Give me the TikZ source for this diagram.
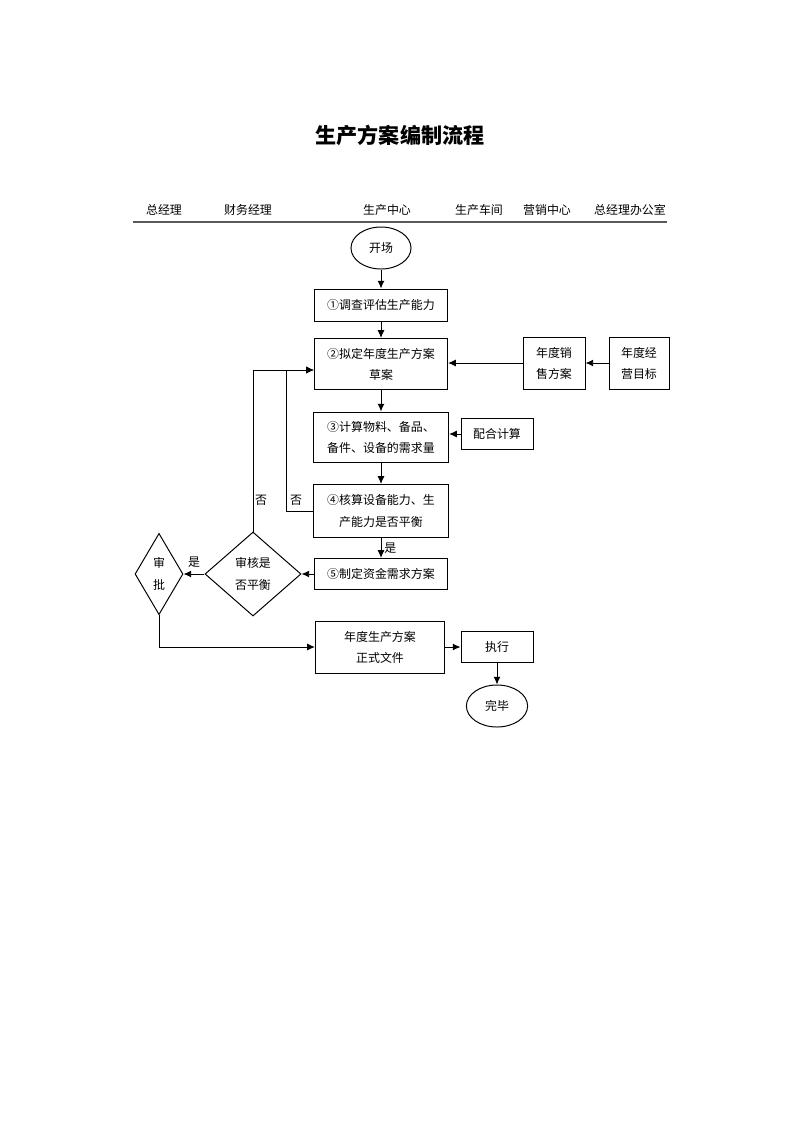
\documentclass[tikz,border=0pt]{standalone}
\usepackage{fontspec}
\usetikzlibrary{positioning,shapes.geometric,arrows.meta}
\newfontfamily\cjk{Noto Sans CJK SC}

\begin{document}
\begin{tikzpicture}[x=0.025cm,y=-0.025cm,line width=0.7pt,
  >={Latex[length=5.5pt,width=5pt]},
  every node/.style={font=\cjk\fontsize{8.5}{15}\selectfont},
  box/.style={draw,rectangle,inner sep=2pt,align=center},
  oval/.style={draw,ellipse,minimum width=1.5cm,minimum height=1.05cm},
  diam/.style={draw,diamond,inner sep=0pt,align=center,
    font=\cjk\fontsize{8.5}{16}\selectfont},
  hdr/.style={font=\cjk\fontsize{8.5}{10}\selectfont}]

  \useasboundingbox (0,0) rectangle (800,1132);

  \node[font=\cjk\bfseries\fontsize{15}{18}\selectfont] (title) at (400,135) {生产方案编制流程};

  % column heads
  \node[hdr] (h1) at (164,210) {总经理};
  \node[hdr] (h2) at (248,210) {财务经理};
  \node[hdr] (h3) at (387,210) {生产中心};
  \node[hdr] (h4) at (479,210) {生产车间};
  \node[hdr] (h5) at (547,210) {营销中心};
  \node[hdr] (h6) at (630,210) {总经理办公室};
  \draw[line width=1.2pt,black!65] (133,222) -- (667,222);

  % main column
  \node[oval] (start) at (381,248) {开场};
  \node[box,minimum width=3.3cm,minimum height=0.8cm] (s1) at (381,305) {①调查评估生产能力};
  \node[box,minimum width=3.33cm,minimum height=1.28cm] (s2) at (381,364) {②拟定年度生产方案\\草案};
  \node[box,minimum width=3.38cm,minimum height=1.25cm] (s3) at (381,437) {③计算物料、备品、\\备件、设备的需求量};
  \node[box,minimum width=3.35cm,minimum height=1.33cm] (s4) at (381,511) {④核算设备能力、生\\产能力是否平衡};
  \node[box,minimum width=3.33cm,minimum height=0.78cm] (s5) at (381,574) {⑤制定资金需求方案};
  \node[diam,minimum width=2.4cm,minimum height=2.1cm] (shen) at (253,574) {审核是\\否平衡};
  \node[diam,minimum width=1.2cm,minimum height=2.03cm] (pizhun) at (159,574) {审\\批};
  \node[box,minimum width=3.23cm,minimum height=1.3cm] (wenjian) at (380,647) {年度生产方案\\正式文件};
  \node[box,minimum width=1.8cm,minimum height=0.78cm] (zhixing) at (497,647) {执行};
  \node[oval,minimum width=1.53cm] (wanbi) at (497,706) {完毕};

  % side inputs
  \node[box,minimum width=1.55cm,minimum height=1.3cm] (xiaoshou) at (554,363) {年度销\\售方案};
  \node[box,minimum width=1.5cm,minimum height=1.3cm] (mubiao) at (639,363) {年度经\\营目标};
  \node[box,minimum width=1.8cm,minimum height=0.78cm] (peihe) at (497,434) {配合计算};

  \draw[->] (start) -- (s1);
  \draw[->] (s1) -- (s2);
  \draw[->] (s2) -- (s3);
  \draw[->] (s3) -- (s4);
  \draw[->] (s4) -- node[right,inner sep=2pt] {是} (s5);
  \draw[->] (s5) -- (shen);
  \draw[->] (shen) -- node[above,inner sep=4pt] {是} (pizhun);
  \draw[->] (pizhun.south) |- (wenjian.west);
  \draw[->] (wenjian) -- (zhixing);
  \draw[->] (zhixing) -- (wanbi);
  \draw[->] (mubiao) -- (xiaoshou);
  \draw[->] (xiaoshou.west) -- (s2.east |- xiaoshou.west);
  \draw[->] (peihe) -- (s3.east |- peihe);

  % loops back to the draft
  \coordinate (in2) at ([yshift=-0.15cm]s2.west);
  \draw[->] (s4.west) -- ++(-27,0) coordinate (bk) |- (in2);
  \draw[->] (shen.north) |- (in2);
  \node (no1) at (261,500) {否};
  \node (no2) at (296,500) {否};

\end{tikzpicture}
\end{document}
